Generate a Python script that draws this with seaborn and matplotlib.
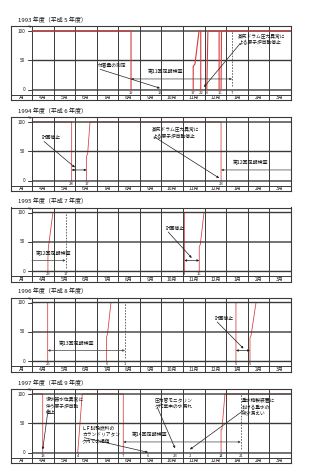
import matplotlib
matplotlib.use("Agg")
import matplotlib.pyplot as plt
import seaborn as sns
import pandas as pd
import numpy as np

sns.set_theme(style="white")
plt.rcParams['font.family'] = ['Noto Sans CJK JP', 'DejaVu Sans']

# ---------------- data ----------------
months = ["4月", "5月", "6月", "7月", "8月", "9月", "10月", "11月", "12月", "1月", "2月", "3月"]
titles = ["1993 年度（平成 5 年度）", "1994 年度（平成 6 年度）", "1995 年度（平成 7 年度）",
          "1996 年度（平成 8 年度）", "1997 年度（平成 9 年度）"]
y_ticks = [0, 50, 100]

# output (%) vs. time (months since 1 April); each inner list is one continuous segment
p1993_x = [[0, 4.59, 4.59], [7.47, 7.47, 7.55, 7.74, 7.82, 7.82], [8.10, 8.15, 8.67, 8.67], [8.76, 8.78, 12]]
p1993_y = [[100, 100, 0], [0, 40, 44, 100, 100, 0], [0, 100, 100, 0], [0, 100, 100]]
p1994_x = [[0, 1.84, 1.84], [2.53, 2.53, 2.58, 2.69, 8.76, 8.76]]
p1994_y = [[100, 100, 0], [0, 42, 46, 100, 100, 0]]
p1995_x = [[0.74, 0.74, 0.76, 0.97, 7.06, 7.06], [7.75, 7.75, 7.80, 7.97, 12]]
p1995_y = [[0, 22, 40, 100, 100, 0], [0, 42, 46, 100, 100]]
p1996_x = [[0, 0.73, 0.73], [3.46, 3.46, 3.50, 3.66, 9.45, 9.45], [10.10, 10.10, 10.15, 10.38, 12]]
p1996_y = [[100, 100, 0], [0, 42, 46, 100, 100, 0], [0, 40, 44, 100, 100]]
p1997_x = [[0, 0.50, 0.50], [2.12, 2.33, 4.23, 4.23], [8.76, 8.76, 8.80, 8.94, 12]]
p1997_y = [[100, 100, 0], [0, 100, 100, 0], [0, 40, 40, 100, 100]]

series_x = [p1993_x, p1994_x, p1995_x, p1996_x, p1997_x]
series_y = [p1993_y, p1994_y, p1995_y, p1996_y, p1997_y]

# small day labels under the 0 line (position in months, text)
days = [
    [(4.59, "19"), (5.93, "19"), (7.47, "17"), (7.82, "22"), (8.10, "6"), (8.72, "16"), (9.27, "7")],
    [(1.84, "28"), (2.53, "17"), (8.76, "23")],
    [(0.75, "23"), (1.56, "17"), (7.06, "8"), (7.75, "15")],
    [(0.73, "25"), (3.46, "6"), (4.31, "1"), (9.45, "5"), (10.10, "5")],
    [(0.50, "13"), (2.12, "4"), (4.23, "7"), (5.38, "6"), (6.63, "23"), (7.32, "2"), (8.76, "14"), (9.67, "21")],
]

# inspection periods: (start, end, label, label_x)
inspections = [
    (4.59, 9.27, "第11回定期検査", 6.2),
    (8.76, 12.0, "第12回定期検査", 10.15),
    (0.0, 1.56, "第12回定期検査", 1.0),
    (0.73, 4.31, "第13回定期検査", 2.06),
    (4.23, 9.67, "第14回定期検査", 5.47),
]
dashed = [[9.27], [], [1.56], [4.31], [9.67]]

# short planned stops (double arrows)
stops = [[], [(1.84, 2.53)], [(7.06, 7.75)], [(9.45, 10.10)], []]

# notes: (text, text_x, text_y, arrow_x, arrow_y)
notes = [
    [("付着量の測定", 3.06, 41, 5.93, 3),
     ("蒸気ドラム圧力異常に\nよる原子炉自動停止", 9.55, 85, 7.97, 5)],
    [("計画停止", 0.46, 73, 1.99, 23),
     ("蒸気ドラム圧力異常に\nよる原子炉自動停止", 5.56, 81, 8.67, 5)],
    [("計画停止", 6.21, 73, 7.40, 23)],
    [("計画停止", 8.48, 73, 9.80, 22)],
    [("復水器水位異常に\n伴う原子炉自動\n停止", 0.65, 80, 0.50, 6),
     ("ＬＦ試験燃料の\nカランドリアタン\nク内での損傷", 2.32, 32, 5.38, 1),
     ("圧力管モニタリン\nグ作業中の水漏れ", 5.70, 84, 6.63, 8),
     ("重水精製装置に\nおける重水の\n微少漏えい", 9.73, 79, 7.32, 6)],
]

# ---------------- layout ----------------
W, H = 310, 470
fig = plt.figure(figsize=(W / 100, H / 100), dpi=100)
tops = [26, 117, 207.5, 297.5, 389]
red_on_top = [True, False, False, False, False]
GRID = "#3a3a3a"
RED = "#d83a3a"
YMIN, YMAX = -17, 108.5
XMIN, XMAX = -0.97, 12

for i, top in enumerate(tops):
    ax = fig.add_axes([11 / W, 1 - (top + 74) / H, 280 / W, 74 / H])
    ax.set_xlim(XMIN, XMAX)
    ax.set_ylim(YMIN, YMAX)
    ax.set_xticks([])
    ax.set_yticks([])
    for s in ax.spines.values():
        s.set_color(GRID)
        s.set_linewidth(0.8)

    # grid
    for v in y_ticks:
        ax.plot([0, 12], [v, v], color=GRID, lw=1.0, zorder=3, solid_capstyle="butt", snap=False)
        ax.plot([-0.18, 0], [v, v], color=GRID, lw=0.7, zorder=3)
        ax.text(-0.3, v, str(v), fontsize=3.4, ha="right", va="center", color="#222")
    ax.text(-0.1, 106.5, "%", fontsize=2.6, ha="center", va="center", color="#222")
    for m in range(12):
        ax.plot([m, m], [YMIN, YMAX], color=GRID, lw=0.7, zorder=3)
        ax.text(m + 0.5, -12.9, months[m], fontsize=3.6, ha="center", va="center", color="#222")
    ax.text(-0.485, -12.9, "月", fontsize=3.6, ha="center", va="center", color="#222")
    ax.plot([XMIN, XMAX], [-8.5, -8.5], color=GRID, lw=0.7, zorder=3)

    # output lines
    rows = []
    for k, (xs, ys) in enumerate(zip(series_x[i], series_y[i])):
        for j, (xv, yv) in enumerate(zip(xs, ys)):
            rows.append({"x": xv, "y": yv, "seg": k, "order": j})
    df = pd.DataFrame(rows)
    sns.lineplot(data=df, x="x", y="y", units="seg", estimator=None, sort=False,
                 color=RED, lw=0.8 if red_on_top[i] else 0.55, ax=ax,
                 zorder=4 if red_on_top[i] else 2, legend=False)
    for ln in ax.get_lines()[-len(series_x[i]):]:
        ln.set_snap(False)
    ax.set_xlabel("")
    ax.set_ylabel("")

    # dashed ends of inspection
    for d in dashed[i]:
        ax.plot([d, d], [6, 100], color="#555", lw=0.6, ls=(0, (2, 1.5)), zorder=2)

    # inspection arrow
    a, b, lab, lx = inspections[i]
    style = "<|-|>" if (a > 0 and b < 12) else ("<|-" if b >= 12 else "-|>")
    ax.annotate("", xy=(b, 18.7), xytext=(a, 18.7),
                arrowprops=dict(arrowstyle=style, color="#444", lw=0.5,
                                mutation_scale=3, shrinkA=0, shrinkB=0), zorder=4)
    ax.text(lx, 31, lab, fontsize=3.6, ha="center", va="center", color="#111", zorder=5)

    # planned stops
    for a, b in stops[i]:
        ax.annotate("", xy=(b, 18.7), xytext=(a, 18.7),
                    arrowprops=dict(arrowstyle="<|-|>", color="#222", lw=0.5,
                                    mutation_scale=3, shrinkA=0, shrinkB=0), zorder=4)

    # notes
    for txt, tx, ty, axx, ayy in notes[i]:
        ax.text(tx, ty, txt, fontsize=3.4, ha="left", va="center", color="#111",
                linespacing=1.3, zorder=5)
        ax.annotate("", xy=(axx, ayy), xytext=(tx + 0.1, ty - 6),
                    arrowprops=dict(arrowstyle="-|>", color="#222", lw=0.5,
                                    mutation_scale=3, shrinkA=0, shrinkB=0), zorder=4)

    # day labels
    for dx, dl in days[i]:
        ax.text(dx, -4.5, dl, fontsize=3.0, ha="center", va="center", color="#222")

    # title
    fig.text(18 / W, 1 - (top - 4) / H, titles[i], fontsize=4.3, ha="left",
             va="baseline", color="#111")

fig.savefig("out.png", dpi=100)
